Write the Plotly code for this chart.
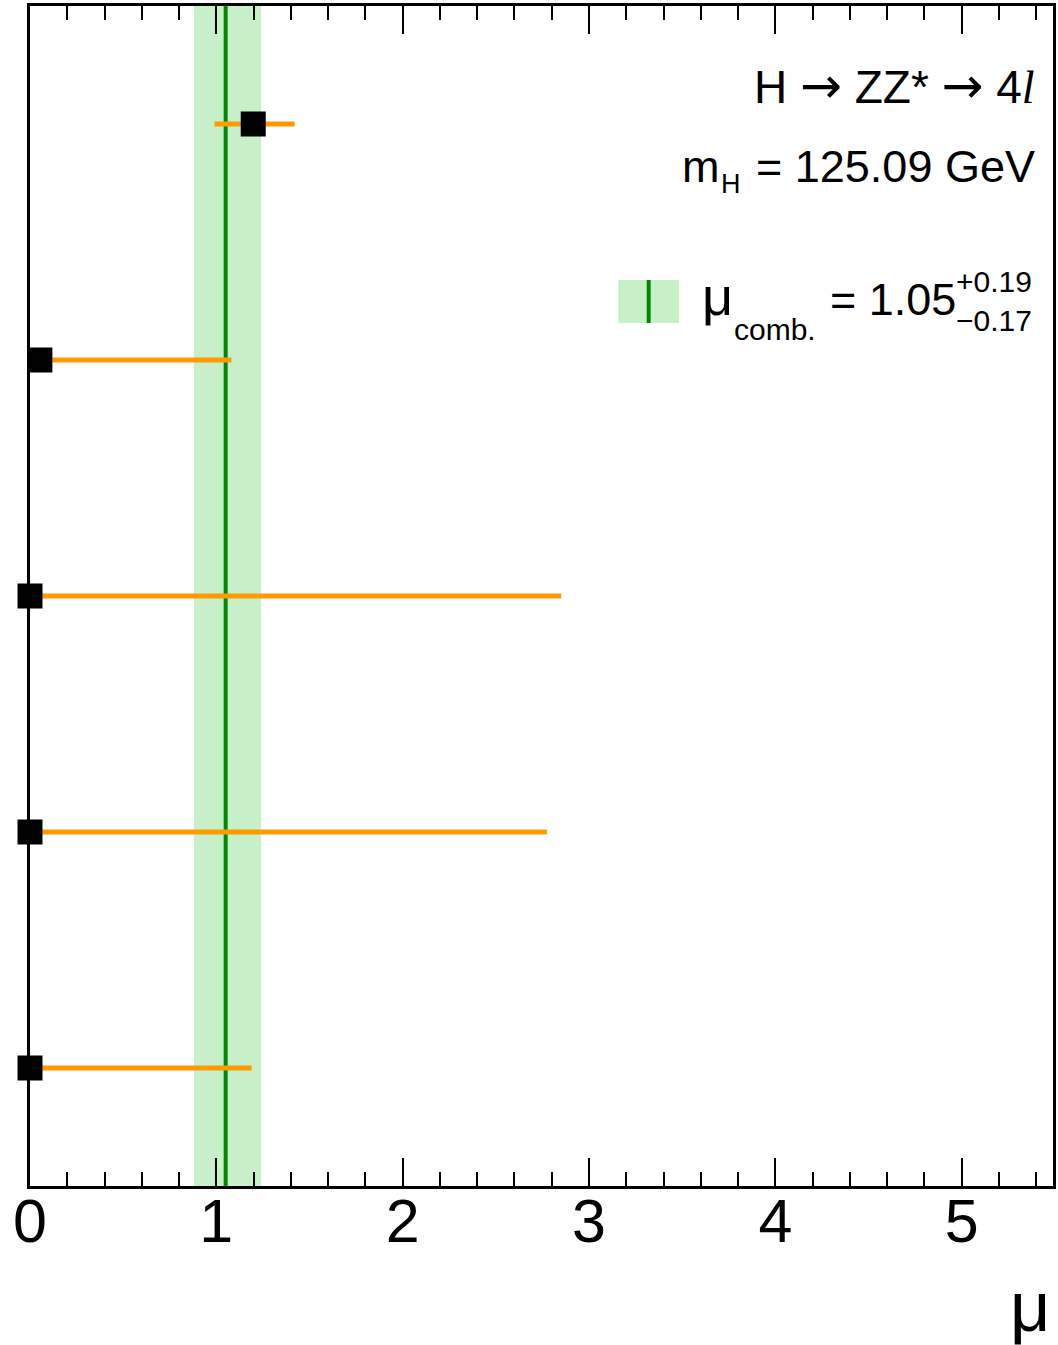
import plotly.graph_objects as go

# ---- data ----
rows = [0, 1, 2, 3, 4]
mu_values = [1.198, 0.053, 0.0, 0.0, 0.0]
err_plus = [0.222, 1.028, 2.851, 2.774, 1.190]
err_minus = [0.208, 0.053, 0.0, 0.0, 0.0]
mu_comb = 1.05
mu_comb_up = 0.19
mu_comb_dn = 0.17
x_ticks = [0, 1, 2, 3, 4, 5]

W, H = 1058, 1345
L, R, T, B = 30, 2, 6, 159
PW = W - L - R
PH = H - T - B


def px(xp):
    return (xp - L) / PW


def py(yp):
    return 1 - (yp - T) / PH


FONT = "Liberation Sans, Arial, Helvetica, sans-serif"
ARROW = "<span style=\"font-family:'DejaVu Sans';font-size:50px\">→</span>"

fig = go.Figure()
fig.add_trace(go.Scatter(
    x=mu_values, y=rows, mode="markers",
    marker=dict(symbol="square", size=25, color="black", line=dict(width=0)),
    error_x=dict(type="data", symmetric=False, array=err_plus, arrayminus=err_minus,
                 color="#ff9900", thickness=5, width=0),
    cliponaxis=False, showlegend=False,
))

shapes = [
    dict(type="rect", xref="x", yref="paper", x0=mu_comb - mu_comb_dn, x1=mu_comb + mu_comb_up,
         y0=0, y1=1, fillcolor="#c8f0c8", line=dict(width=0), layer="below"),
    dict(type="line", xref="x", yref="paper", x0=mu_comb, x1=mu_comb, y0=0, y1=1,
         line=dict(color="#008800", width=4), layer="below"),
    # legend symbol
    dict(type="rect", xref="paper", yref="paper", x0=px(620), x1=px(681), y0=py(323), y1=py(280),
         fillcolor="#c8f0c8", line=dict(width=0)),
    dict(type="line", xref="paper", yref="paper", x0=px(650.5), x1=px(650.5), y0=py(323), y1=py(280),
         line=dict(color="#008800", width=4)),
]


def ann(text, x, y, size, xanchor="right"):
    return dict(text=text, xref="paper", yref="paper", x=px(x), y=py(y), xanchor=xanchor,
                yanchor="middle", showarrow=False, font=dict(family=FONT, size=size, color="black"),
                borderpad=0)


annotations = [
    ann(f"H {ARROW} ZZ* {ARROW} 4<span style=\"font-family:'Liberation Serif'\"><i>l</i></span>",
        1039, 86.4, 46),
    ann("= 125.09 GeV", 1039, 166.4, 45),
    ann("m", 723, 166.4, 45),
    ann("H", 722, 183.6, 27, "left"),
    ann("μ", 703, 296, 54, "left"),
    ann("comb.", 735, 329.6, 30, "left"),
    ann(f"= {mu_comb:.2f}", 960, 299.7, 45),
    ann(f"+{mu_comb_up:.2f}", 958, 281, 30, "left"),
    ann(f"−{mu_comb_dn:.2f}", 958, 321, 30, "left"),
    ann("μ", 1054, 1307, 70),
]

fig.update_layout(
    width=W, height=H,
    margin=dict(l=L, r=R, t=T, b=B, pad=0),
    paper_bgcolor="white", plot_bgcolor="white",
    shapes=shapes, annotations=annotations,
    font=dict(family=FONT, color="black"),
    xaxis=dict(
        range=[0, 5.49], tickvals=x_ticks, ticktext=[str(t) for t in x_ticks],
        ticks="inside", ticklen=28, tickwidth=2, tickcolor="black",
        minor=dict(dtick=0.2, ticks="inside", ticklen=14, tickwidth=2, tickcolor="black", showgrid=False),
        showline=True, linecolor="black", linewidth=3, mirror="ticks",
        showgrid=False, zeroline=False,
        tickfont=dict(family=FONT, size=61, color="black"),
        ticklabelstandoff=-20,
    ),
    yaxis=dict(
        range=[4.5, -0.5], showticklabels=False, ticks="",
        showline=True, linecolor="black", linewidth=3, mirror=True,
        showgrid=False, zeroline=False,
    ),
)

fig.write_html("out.html", config={"displayModeBar": False},
               post_script="document.body.style.margin='0px';")
